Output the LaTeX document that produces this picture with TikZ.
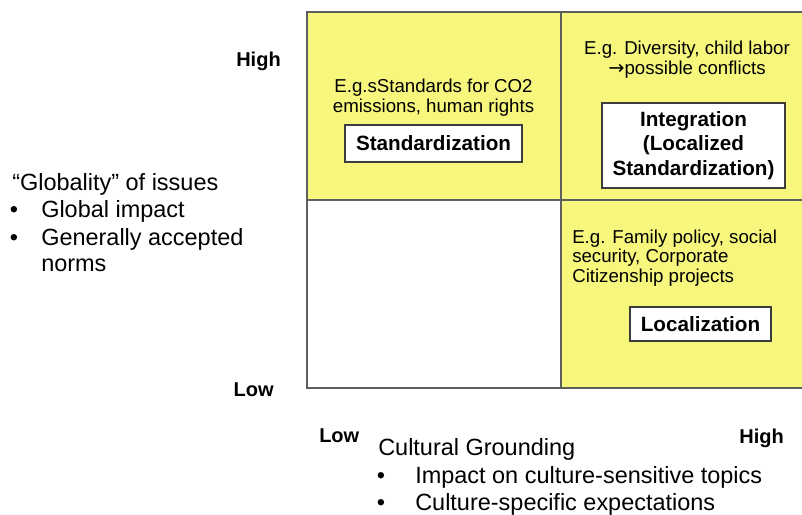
\documentclass[tikz,border=0pt]{standalone}
\usepackage{fontspec}
\setmainfont{Liberation Sans}
\newfontfamily\arrowfont{DejaVu Sans}
\definecolor{quadyellow}{RGB}{247,247,125}
\definecolor{gridgray}{RGB}{95,95,95}
\definecolor{boxgray}{RGB}{60,60,60}
\begin{document}
\begin{tikzpicture}[x=0.75pt, y=-0.75pt,
  gridline/.style={draw=gridgray, line width=0.9pt},
  axistext/.style={inner sep=0pt, font=\fontsize{17.6}{20.3}\selectfont},
  levellabel/.style={inner sep=0pt, font=\fontsize{15}{18}\selectfont\bfseries},
  extext/.style={inner sep=0pt, font=\fontsize{14}{14}\selectfont},
  casebox/.style={draw=boxgray, fill=white, line width=1.1pt, inner sep=0pt,
    align=center, font=\fontsize{15.5}{18.4}\selectfont\bfseries}]
\useasboundingbox (0,0) rectangle (802,514);
% quadrants
\fill[quadyellow] (307,12) rectangle (802,200);
\fill[quadyellow] (561,200) rectangle (802,388);
\draw[gridline] (802,12) -- (307,12) -- (307,388) -- (802,388);
\draw[gridline] (561,12) -- (561,388);
\draw[gridline] (307,200) -- (802,200);
% vertical axis
\node[levellabel, anchor=base east] (yhigh) at (281,66) {High};
\node[levellabel, anchor=base east] (ylow) at (274,396) {Low};
\node[axistext, anchor=base west] (glob) at (12,190) {“Globality” of issues};
\node[axistext, anchor=base] (globdotA) at (14,217.5) {•};
\node[axistext, anchor=base west] (globA) at (41,217.5) {Global impact};
\node[axistext, anchor=base] (globdotB) at (14,245) {•};
\node[axistext, anchor=base west] (globB) at (41,245) {Generally accepted};
\node[axistext, anchor=base west] (globC) at (41,271) {norms};
% horizontal axis
\node[levellabel, anchor=base west] (xlow) at (319,442) {Low};
\node[levellabel, anchor=base east] (xhigh) at (784,443) {High};
\node[axistext, anchor=base west] (cult) at (378,455.5) {Cultural Grounding};
\node[axistext, anchor=base] (cultdotA) at (381,483) {•};
\node[axistext, anchor=base west] (cultA) at (415,483) {Impact on culture-sensitive topics};
\node[axistext, anchor=base] (cultdotB) at (381,510.5) {•};
\node[axistext, anchor=base west] (cultB) at (415,510.5) {Culture-specific expectations};
% examples (base = last line)
\node[extext, align=center, anchor=base, font=\fontsize{14}{14.5}\selectfont] (stdex) at (433.5,112)
  {E.g.sStandards for CO2\\emissions, human rights};
\node[extext, align=center, anchor=base, font=\fontsize{14}{15}\selectfont] (intex) at (687,74)
  {E.g. Diversity, child labor\\{\arrowfont\fontsize{14.5}{15}\selectfont →}possible conflicts};
\node[extext, align=left, anchor=base west, font=\fontsize{14}{14.6}\selectfont] (locex) at (572,282)
  {E.g. Family policy, social\\security, Corporate\\Citizenship projects};
% strategies
\node[casebox, minimum width=132.75pt, minimum height=27.75pt] (std) at (433.5,143.5) {Standardization};
\node[casebox, minimum width=137.25pt, minimum height=63.75pt] (int) at (693.5,145.5)
  {Integration\\(Localized\\Standardization)};
\node[casebox, minimum width=105.75pt, minimum height=25.5pt] (loc) at (700.5,324) {Localization};
\end{tikzpicture}
\end{document}
